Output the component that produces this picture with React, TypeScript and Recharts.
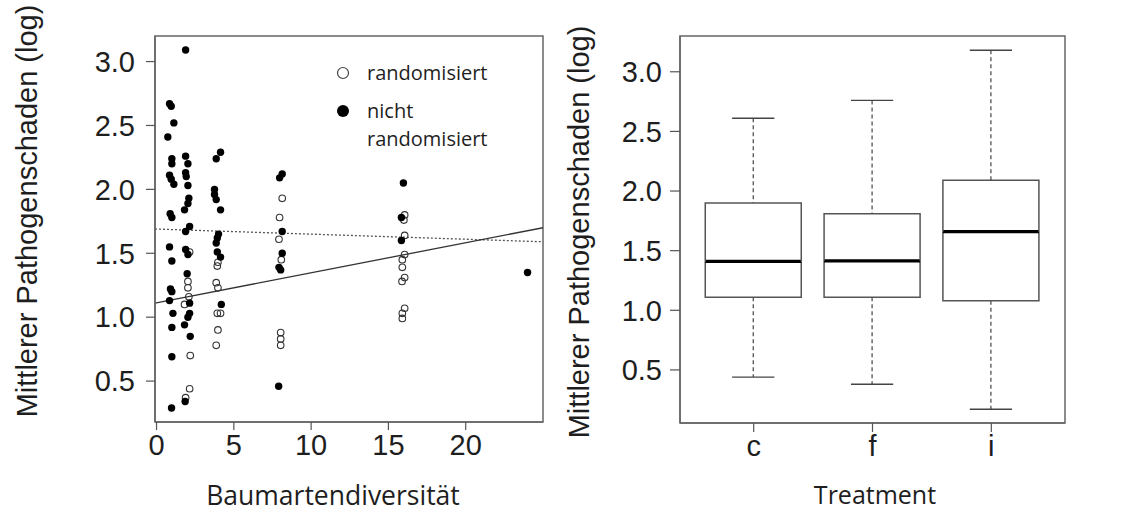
import React from 'react';
import {
  ScatterChart,
  Scatter,
  XAxis,
  YAxis,
  ReferenceLine,
  ReferenceArea,
  Legend,
  ComposedChart,
  Bar,
} from 'recharts';

// ---------- Left panel: scatter ----------
// [Baumartendiversität (jittered), mittlerer Pathogenschaden (log)]
const nichtRandomisiert: [number, number][] = [
  [0.84, 2.67], [0.95, 2.65], [1.12, 2.52], [0.73, 2.41], [0.99, 2.24], [0.99, 2.2],
  [0.84, 2.11], [0.95, 2.08], [1.12, 2.04], [0.88, 1.81], [0.99, 1.78], [0.84, 1.55],
  [0.99, 1.44], [0.9, 1.22], [0.99, 1.2], [0.84, 1.13], [1.06, 1.03], [0.99, 0.92],
  [0.99, 0.69], [0.97, 0.29],
  [1.88, 3.09], [1.88, 2.26], [2.03, 2.2], [1.88, 2.13], [1.92, 2.1], [2.03, 2.03],
  [2.09, 1.93], [2.03, 1.89], [1.81, 1.84], [2.14, 1.71], [1.88, 1.67], [1.88, 1.53],
  [2.03, 1.49], [1.98, 1.34], [2.14, 1.11], [2.14, 1.03], [2.03, 1.0], [1.81, 0.94],
  [2.18, 0.85], [1.85, 0.34],
  [4.14, 2.29], [3.86, 2.24], [3.75, 2.0], [3.75, 1.96], [3.86, 1.92], [4.14, 1.84],
  [4.01, 1.65], [3.93, 1.62], [3.86, 1.58], [3.93, 1.51], [4.14, 1.47], [4.19, 1.1],
  [8.13, 2.12], [7.96, 2.09], [8.13, 1.67], [8.13, 1.5], [7.92, 1.39], [8.03, 1.37],
  [7.9, 0.46],
  [15.97, 2.05], [15.84, 1.78], [15.84, 1.6],
  [24, 1.35],
];

const randomisiert: [number, number][] = [
  [2.14, 1.51], [2.03, 1.28], [2.03, 1.23], [2.09, 1.16], [1.81, 1.1], [2.18, 0.7],
  [2.14, 0.44], [1.88, 0.37],
  [3.97, 1.43], [3.93, 1.4], [3.86, 1.27], [3.97, 1.23], [3.93, 1.03], [4.14, 1.03],
  [3.97, 0.9], [3.86, 0.78],
  [8.13, 1.93], [7.96, 1.78], [7.92, 1.61], [8.07, 1.45], [8.03, 0.88], [8.03, 0.83],
  [8.03, 0.78],
  [16.05, 1.8], [16.0, 1.76], [16.05, 1.64], [16.05, 1.49], [15.9, 1.45], [15.9, 1.39],
  [16.05, 1.31], [15.88, 1.28], [16.05, 1.07], [15.9, 1.03], [15.9, 0.99],
];

// fitted lines (value at left and right edge of the plot)
const fitSolid = [{ x: -0.1, y: 1.11 }, { x: 25, y: 1.7 }];
const fitDotted = [{ x: -0.1, y: 1.69 }, { x: 25, y: 1.59 }];

const xDomainLeft: [number, number] = [-0.1, 25];
const yDomainLeft: [number, number] = [0.18, 3.2];
const xTicksLeft = [0, 5, 10, 15, 20];
const yTicks = [0.5, 1.0, 1.5, 2.0, 2.5, 3.0];
const legendLabels = ['randomisiert', 'nicht\nrandomisiert'];

// ---------- Right panel: boxplot ----------
const treatments = ['c', 'f', 'i'];
const whiskerLow = [0.44, 0.38, 0.17];
const quartile1 = [1.11, 1.11, 1.08];
const medians = [1.41, 1.415, 1.66];
const quartile3 = [1.9, 1.81, 2.09];
const whiskerHigh = [2.61, 2.76, 3.18];
const xDomainRight: [number, number] = [0.38, 3.62];
const xTicksRight = [1, 2, 3];
const yDomainRight: [number, number] = [0.055, 3.3];

const boxData = treatments.map((t, i) => ({
  name: t,
  pos: i + 1,
  base: whiskerLow[i],
  lowW: quartile1[i] - whiskerLow[i],
  lowBox: medians[i] - quartile1[i],
  highBox: quartile3[i] - medians[i],
  highW: whiskerHigh[i] - quartile3[i],
}));

const toPts = (arr: [number, number][]) => arr.map(([x, y]) => ({ x, y }));

const ARIAL = '"Liberation Sans", Arial, sans-serif';
const MYRIAD = '"Open Sans", sans-serif';
const FRAME = '#666';
const TICK_STYLE = { fontSize: 29, fontFamily: ARIAL, fill: '#1e1e1e' };

const FilledDot = (p: any) => <circle cx={p.cx} cy={p.cy} r={3.7} fill="#000" />;
const OpenDot = (p: any) => (
  <circle cx={p.cx} cy={p.cy} r={3.3} fill="none" stroke="#333" strokeWidth={1.1} />
);

const RotTitle = (p: any) => (
  <text
    transform={`translate(${p.px}, ${p.py}) rotate(-90)`}
    textAnchor="middle"
    dominantBaseline="central"
    fontSize={29}
    fontFamily={ARIAL}
    fill="#1e1e1e"
  >
    {p.txt}
  </text>
);

const FlatTitle = (p: any) => (
  <text
    x={p.px}
    y={p.py}
    textAnchor="middle"
    fontSize={p.fs}
    fontFamily={MYRIAD}
    fill="#1e1e1e"
  >
    {p.txt}
  </text>
);

const LegendBox = () => (
  <div style={{ fontFamily: MYRIAD, fontSize: 20, color: '#1e1e1e', lineHeight: '28px' }}>
    {legendLabels.map((lab, i) => (
      <div key={lab} style={{ display: 'flex', alignItems: 'flex-start', marginBottom: 10 }}>
        <svg width={24} height={28} style={{ flex: 'none' }}>
          {i === 0 ? (
            <circle cx={12} cy={14} r={5.5} fill="none" stroke="#444" strokeWidth={1.2} />
          ) : (
            <circle cx={12} cy={14} r={6} fill="#000" />
          )}
        </svg>
        <div style={{ marginLeft: 12, whiteSpace: 'pre' }}>{lab}</div>
      </div>
    ))}
  </div>
);

// box plot pieces
const Hidden = () => <g />;
const LowWhisker = (p: any) => {
  const cx = p.x + p.width / 2;
  const cap = p.width * 0.22;
  return (
    <g>
      <line x1={cx} y1={p.y} x2={cx} y2={p.y + p.height} stroke="#444" strokeWidth={1.2} strokeDasharray="4 3" />
      <line x1={cx - cap} y1={p.y + p.height} x2={cx + cap} y2={p.y + p.height} stroke="#444" strokeWidth={1.4} />
    </g>
  );
};
const HighWhisker = (p: any) => {
  const cx = p.x + p.width / 2;
  const cap = p.width * 0.22;
  return (
    <g>
      <line x1={cx} y1={p.y} x2={cx} y2={p.y + p.height} stroke="#444" strokeWidth={1.2} strokeDasharray="4 3" />
      <line x1={cx - cap} y1={p.y} x2={cx + cap} y2={p.y} stroke="#444" strokeWidth={1.4} />
    </g>
  );
};
const LowBox = (p: any) => {
  const { x, y, width: w, height: h } = p;
  return (
    <g>
      <path d={`M${x},${y} L${x},${y + h} L${x + w},${y + h} L${x + w},${y}`} fill="#fff" stroke="#555" strokeWidth={1.5} />
      <line x1={x} y1={y} x2={x + w} y2={y} stroke="#000" strokeWidth={3.2} />
    </g>
  );
};
const HighBox = (p: any) => {
  const { x, y, width: w, height: h } = p;
  return (
    <path d={`M${x},${y + h} L${x},${y} L${x + w},${y} L${x + w},${y + h}`} fill="none" stroke="#555" strokeWidth={1.5} />
  );
};

export default function App() {
  return (
    <div style={{ position: 'absolute', left: 0, top: 0, width: 1125, height: 513, background: '#fff', overflow: 'hidden' }}>
      {/* Left panel */}
      <div style={{ position: 'absolute', left: 0, top: 0 }}>
        <ScatterChart width={560} height={513} margin={{ top: 36, right: 17, bottom: 31, left: 75 }}>
          <XAxis
            type="number"
            dataKey="x"
            domain={xDomainLeft}
            ticks={xTicksLeft}
            allowDataOverflow
            height={60}
            fontSize={29}
            fontFamily={ARIAL}
            tick={TICK_STYLE}
            tickSize={8}
            tickMargin={4}
            axisLine={{ stroke: FRAME, strokeWidth: 1.5 }}
            tickLine={{ stroke: '#555', strokeWidth: 1.2 }}
            label={<FlatTitle px={333} py={505} fs={26.5} txt="Baumartendiversität" />}
          />
          <YAxis
            type="number"
            dataKey="y"
            domain={yDomainLeft}
            ticks={yTicks}
            allowDataOverflow
            width={80}
            fontSize={29}
            fontFamily={ARIAL}
            tick={TICK_STYLE}
            tickSize={9}
            tickMargin={11}
            tickFormatter={(v: number) => v.toFixed(1)}
            axisLine={{ stroke: FRAME, strokeWidth: 1.5 }}
            tickLine={{ stroke: '#555', strokeWidth: 1.2 }}
            label={<RotTitle px={27} py={211} txt="Mittlerer Pathogenschaden (log)" />}
          />
          <ReferenceArea
            x1={xDomainLeft[0]}
            x2={xDomainLeft[1]}
            y1={yDomainLeft[0]}
            y2={yDomainLeft[1]}
            fill="none"
            fillOpacity={0}
            stroke={FRAME}
            strokeWidth={1.5}
            strokeOpacity={1}
          />
          <ReferenceLine segment={fitDotted} stroke="#555" strokeWidth={1.3} strokeDasharray="2 2" ifOverflow="hidden" />
          <ReferenceLine segment={fitSolid} stroke="#333" strokeWidth={1.3} ifOverflow="hidden" />
          <Scatter name="randomisiert" data={toPts(randomisiert)} shape={OpenDot} isAnimationActive={false} />
          <Scatter name="nicht randomisiert" data={toPts(nichtRandomisiert)} shape={FilledDot} isAnimationActive={false} />
          <Legend
            layout="vertical"
            align="center"
            verticalAlign="middle"
            content={<LegendBox />}
            wrapperStyle={{ position: 'absolute', left: 331, top: 59, width: 200, height: 110 }}
          />
        </ScatterChart>
      </div>

      {/* Right panel */}
      <div style={{ position: 'absolute', left: 545, top: 0 }}>
        <ComposedChart width={580} height={513} data={boxData} margin={{ top: 36, right: 60, bottom: 30, left: 55 }}>
          <XAxis
            type="number"
            dataKey="pos"
            domain={xDomainRight}
            ticks={xTicksRight}
            allowDataOverflow
            tickFormatter={(v: number) => treatments[v - 1] ?? ''}
            height={60}
            fontSize={29}
            fontFamily={ARIAL}
            tick={TICK_STYLE}
            tickSize={9}
            tickMargin={3}
            axisLine={{ stroke: FRAME, strokeWidth: 1.5 }}
            tickLine={{ stroke: '#555', strokeWidth: 1.2 }}
            label={<FlatTitle px={330} py={504} fs={25} txt="Treatment" />}
          />
          <YAxis
            type="number"
            domain={yDomainRight}
            ticks={yTicks}
            allowDataOverflow
            width={80}
            fontSize={29}
            fontFamily={ARIAL}
            tick={TICK_STYLE}
            tickSize={10}
            tickMargin={8}
            tickFormatter={(v: number) => v.toFixed(1)}
            axisLine={{ stroke: FRAME, strokeWidth: 1.5 }}
            tickLine={{ stroke: '#555', strokeWidth: 1.2 }}
            label={<RotTitle px={34} py={232} txt="Mittlerer Pathogenschaden (log)" />}
          />
          <ReferenceArea
            x1={xDomainRight[0]}
            x2={xDomainRight[1]}
            y1={yDomainRight[0]}
            y2={yDomainRight[1]}
            fill="none"
            fillOpacity={0}
            stroke={FRAME}
            strokeWidth={1.5}
            strokeOpacity={1}
          />
          <Bar dataKey="base" stackId="box" barSize={96} shape={Hidden} isAnimationActive={false} />
          <Bar dataKey="lowW" stackId="box" barSize={96} shape={LowWhisker} isAnimationActive={false} />
          <Bar dataKey="lowBox" stackId="box" barSize={96} shape={LowBox} isAnimationActive={false} />
          <Bar dataKey="highBox" stackId="box" barSize={96} shape={HighBox} isAnimationActive={false} />
          <Bar dataKey="highW" stackId="box" barSize={96} shape={HighWhisker} isAnimationActive={false} />
        </ComposedChart>
      </div>
    </div>
  );
}
